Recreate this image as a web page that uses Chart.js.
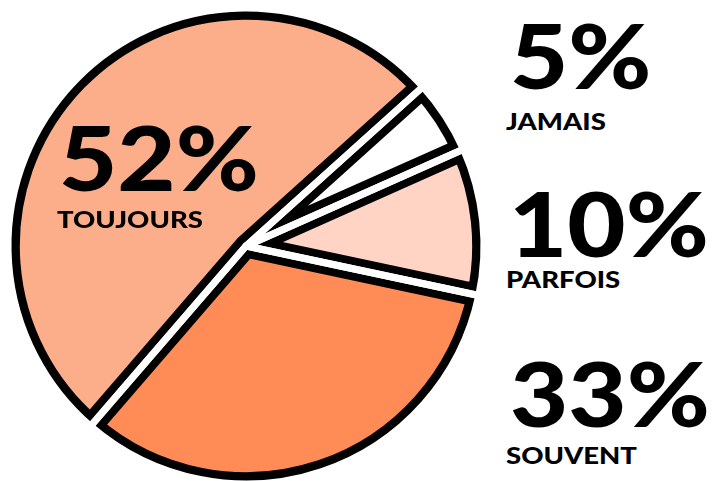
<!DOCTYPE html>
<html lang="fr">
<head>
<meta charset="utf-8">
<title>Fréquence</title>
<script src="https://cdn.jsdelivr.net/npm/chart.js@4.4.1/dist/chart.umd.min.js"></script>
<style>
  html, body { margin: 0; padding: 0; background: #fff; }
  body { width: 712px; height: 481px; position: relative; overflow: hidden; font-family: 'Lato', sans-serif; }
  .pie { position: absolute; left: 0; top: 0; width: 492px; height: 492px; }
  .pie canvas { position: absolute; left: 0; top: 0; }
  .num, .lbl { position: absolute; font-weight: 900; color: #000; white-space: nowrap; z-index: 5; transform-origin: 0 0; }
  .num { font-size: 89px; line-height: 89px; transform: scaleX(1.13); }
  .lbl { font-size: 23.5px; line-height: 23.5px; transform: scaleX(1.17); }
</style>
</head>
<body>
<div class="pie">
  <canvas id="fond" width="492" height="492"></canvas>
  <canvas id="traits" width="492" height="492"></canvas>
</div>

<script>
// réponses, dans l'ordre du tracé (sens horaire)
const categories = ['JAMAIS', 'PARFOIS', 'SOUVENT', 'TOUJOURS'];
const pourcentages = [5, 10, 33, 52];
const couleurs = ['#ffffff', '#ffd4c4', '#ff8b57', '#fcad8a'];

// emplacement des étiquettes (chiffre puis libellé)
const positions = [
    { x: 510, y: 10, lx: 506, ly: 110 },
    { x: 509, y: 178, lx: 506, ly: 268 },
    { x: 510, y: 348, lx: 506, ly: 444 },
    { x: 59, y: 112, lx: 57, ly: 208 }
];

const rotation = 48;
const rayon = 238;

function options() {
    return {
        responsive: false,
        animation: false,
        events: [],
        rotation: rotation,
        radius: rayon,
        layout: { padding: 0 },
        plugins: { legend: { display: false }, tooltip: { enabled: false } }
    };
}

// couche du dessous : remplissage + contour noir intérieur
new Chart(document.getElementById('fond'), {
    type: 'pie',
    data: {
        labels: categories,
        datasets: [{
            data: pourcentages,
            backgroundColor: couleurs,
            borderColor: '#000',
            borderWidth: 11.5,
            borderAlign: 'inner'
        }]
    },
    options: options()
});

// couche du dessus : traits blancs qui séparent les parts
new Chart(document.getElementById('traits'), {
    type: 'pie',
    data: {
        labels: categories,
        datasets: [{
            data: pourcentages,
            backgroundColor: 'rgba(0,0,0,0)',
            borderColor: '#fff',
            borderWidth: 7,
            borderJoinStyle: 'round'
        }]
    },
    options: options()
});

categories.forEach((nom, i) => {
    const p = positions[i];
    const n = document.createElement('div');
    n.className = 'num';
    n.textContent = pourcentages[i] + '%';
    n.style.left = p.x + 'px';
    n.style.top = p.y + 'px';
    document.body.appendChild(n);

    const l = document.createElement('div');
    l.className = 'lbl';
    l.textContent = nom;
    l.style.left = p.lx + 'px';
    l.style.top = p.ly + 'px';
    document.body.appendChild(l);
});
</script>
</body>
</html>
